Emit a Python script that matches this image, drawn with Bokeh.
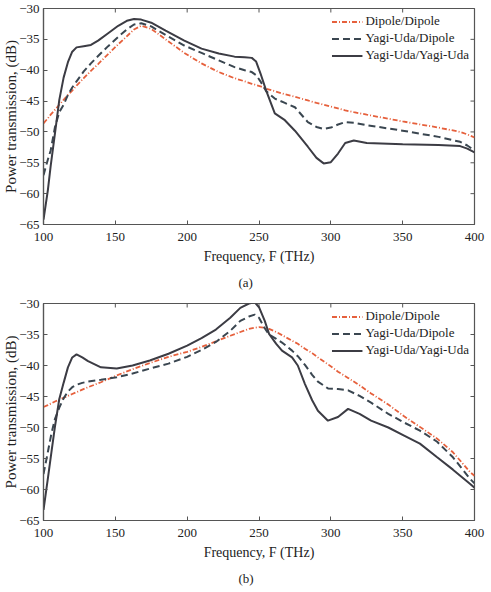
import math
from bokeh.plotting import figure
from bokeh.layouts import column
from bokeh.models import FixedTicker, Legend, LegendItem, Title, Range1d
from bokeh.embed import file_html
from bokeh.resources import INLINE

# ---------------- data ----------------
x_ticks = [100, 150, 200, 250, 300, 350, 400]
y_ticks = [-65, -60, -55, -50, -45, -40, -35, -30]
series_names = ["Dipole/Dipole", "Yagi-Uda/Dipole", "Yagi-Uda/Yagi-Uda"]

# panel (a)
freq_a = [100, 103, 105, 108, 111, 114, 117, 120, 123, 128, 133, 138, 145, 152, 158, 163, 168,
          175, 185, 198, 210, 222, 233, 240, 245, 248, 251, 255, 261, 268, 275, 284, 290, 295,
          300, 305, 310, 316, 325, 350, 375, 390, 395, 400]
dipole_a = [-48.6, -47.8, -47.2, -46.4, -45.6, -44.8, -44.0, -43.3, -42.5, -41.3, -40.1, -39.0,
            -37.4, -35.8, -34.5, -33.4, -32.8, -33.3, -35.0, -37.2, -38.9, -40.3, -41.3, -41.8,
            -42.2, -42.4, -42.6, -43.0, -43.4, -43.9, -44.3, -44.9, -45.3, -45.6, -45.9, -46.2,
            -46.5, -46.8, -47.2, -48.3, -49.3, -50.0, -50.4, -50.9]
yagi_dipole_a = [-57.0, -54.5, -53.0, -49.2, -46.8, -45.6, -44.0, -42.8, -41.8, -40.2, -38.9,
                 -37.7, -36.1, -34.6, -33.4, -32.6, -32.4, -32.9, -34.3, -36.0, -37.2, -38.4,
                 -39.5, -40.0, -40.3, -40.8, -41.8, -43.4, -44.6, -45.3, -46.0, -48.4, -49.2,
                 -49.5, -49.3, -48.8, -48.4, -48.5, -48.9, -49.8, -50.8, -51.6, -52.2, -53.0]
yagi_yagi_a = [-64.2, -59.5, -55.5, -50.2, -44.8, -41.2, -38.7, -37.0, -36.3, -36.1, -35.9,
               -35.2, -34.0, -32.8, -32.0, -31.7, -31.8, -32.3, -33.6, -35.2, -36.5, -37.3,
               -37.8, -37.9, -38.0, -38.6, -40.5, -43.3, -47.0, -48.1, -49.8, -52.4, -54.2,
               -55.1, -54.9, -53.5, -51.8, -51.4, -51.8, -52.0, -52.1, -52.3, -52.7, -53.3]

# panel (b)
freq_b = [100, 103, 105.5, 108, 111, 114, 117, 120, 123, 127, 131, 140, 151, 162, 174, 187, 200,
          210, 220, 230, 237, 243, 247, 250, 254, 257, 262, 266, 273, 277, 282, 287, 291, 298,
          305, 312, 320, 328, 340, 351, 362, 374, 385, 397, 400]
dipole_b = [-46.7, -46.4, -46.1, -45.8, -45.5, -45.2, -44.9, -44.6, -44.3, -43.9, -43.5, -42.7,
            -41.6, -40.6, -39.6, -38.6, -37.8, -37.0, -36.1, -35.2, -34.6, -34.1, -33.9, -33.8,
            -33.9, -34.1, -34.6, -35.1, -36.0, -36.5, -37.3, -38.0, -38.7, -39.8, -41.0, -42.0,
            -43.2, -44.5, -46.3, -48.2, -49.9, -51.8, -54.0, -57.2, -57.8]
yagi_dipole_b = [-57.5, -54.0, -51.0, -48.6, -46.8, -45.3, -44.2, -43.5, -43.1, -42.8, -42.6,
                 -42.3, -41.9, -41.3, -40.5, -39.7, -38.6, -37.5, -36.2, -34.4, -32.8, -32.1,
                 -31.8, -32.3, -34.0, -35.0, -35.7, -36.3, -37.6, -38.5, -39.9, -41.5, -42.6,
                 -43.7, -43.8, -44.0, -44.9, -46.0, -47.8, -49.2, -50.5, -52.3, -54.8, -58.3, -59.0]
yagi_yagi_b = [-63.3, -58.3, -54.0, -49.8, -45.4, -42.8, -40.3, -38.7, -38.2, -38.7, -39.3,
               -40.3, -40.5, -40.0, -39.2, -38.1, -36.8, -35.6, -34.2, -32.3, -30.7, -30.0,
               -29.8, -30.6, -32.8, -34.9, -36.5, -37.6, -38.7, -40.0, -43.0, -45.6, -47.3,
               -48.9, -48.3, -47.0, -47.8, -48.9, -50.0, -51.3, -52.6, -54.8, -56.8, -59.1, -59.7]

# ---------------- style ----------------
FONT = "Liberation Serif"
TXT = "#222222"
FRAME = "#555555"
RED = "#e6603c"
DASH = "#3a4650"
SOLID = "#3c3c44"
X_MIN, X_MAX = x_ticks[0], x_ticks[-1]
Y_MIN, Y_MAX = y_ticks[0], y_ticks[-1]


def style_axis(ax, ticks):
    ax.ticker = FixedTicker(ticks=ticks)
    ax.major_tick_in = 4
    ax.major_tick_out = 0
    ax.minor_tick_line_color = None
    ax.major_tick_line_color = FRAME
    ax.axis_line_color = FRAME
    ax.axis_line_width = 1.2
    ax.major_label_text_font = FONT
    ax.major_label_text_color = TXT
    ax.major_label_text_font_size = "13px"
    ax.axis_label_text_font = FONT
    ax.axis_label_text_color = TXT
    ax.axis_label_text_font_style = "normal"


def make_panel(freq, d, yd, yy, caption, left, right, top, bottom):
    p = figure(width=491, height=296, output_backend="svg", toolbar_location=None,
               x_range=Range1d(X_MIN, X_MAX), y_range=Range1d(Y_MIN, Y_MAX),
               min_border_left=left, min_border_right=right,
               min_border_top=top, min_border_bottom=bottom,
               background_fill_color="white", border_fill_color="white")
    p.grid.visible = False
    p.outline_line_color = FRAME
    p.outline_line_width = 1.2

    style_axis(p.xaxis[0], x_ticks)
    style_axis(p.yaxis[0], y_ticks)
    p.xaxis.axis_label = "Frequency, F (THz)"
    p.yaxis.axis_label = "Power transmission, (dB)"
    p.xaxis.axis_label_text_font_size = "14px"
    p.yaxis.axis_label_text_font_size = "15px"
    p.xaxis.major_label_standoff = 8
    p.xaxis.axis_label_standoff = 5
    p.yaxis.major_label_standoff = 4
    p.yaxis.axis_label_standoff = -3

    # inward tick marks on the top and right edges of the box
    p.ray(x=x_ticks, y=[Y_MAX] * len(x_ticks), length=4, length_units="screen",
          angle=-math.pi / 2, line_color=FRAME, line_width=1)
    p.ray(x=[X_MAX] * len(y_ticks), y=y_ticks, length=4, length_units="screen",
          angle=math.pi, line_color=FRAME, line_width=1)

    r1 = p.line(freq, d, line_color=RED, line_width=1.8, line_dash="5 2 1 2")
    r2 = p.line(freq, yd, line_color=DASH, line_width=2, line_dash="7 4")
    r3 = p.line(freq, yy, line_color=SOLID, line_width=2)

    legend = Legend(items=[LegendItem(label=series_names[0], renderers=[r1]),
                           LegendItem(label=series_names[1], renderers=[r2]),
                           LegendItem(label=series_names[2], renderers=[r3])],
                    location="top_right", border_line_color=None, background_fill_alpha=0,
                    label_text_font=FONT, label_text_font_size="13px", label_text_color=TXT,
                    glyph_width=31, glyph_height=15, label_height=15, spacing=1,
                    padding=4, margin=5, label_standoff=3)
    p.add_layout(legend, "center")

    p.add_layout(Title(text=caption, align="left", text_font=FONT, text_font_size="13px",
                       text_font_style="normal", text_color=TXT, offset=195,
                       standoff=12), "below")
    return p


pa = make_panel(freq_a, dipole_a, yagi_dipole_a, yagi_yagi_a, "(a)", 41, 17, 8, 72)
pb = make_panel(freq_b, dipole_b, yagi_dipole_b, yagi_yagi_b, "(b)", 42, 13, 7, 72)

layout = column(pa, pb, spacing=0)
open("out.html", "w").write(file_html(layout, INLINE))
